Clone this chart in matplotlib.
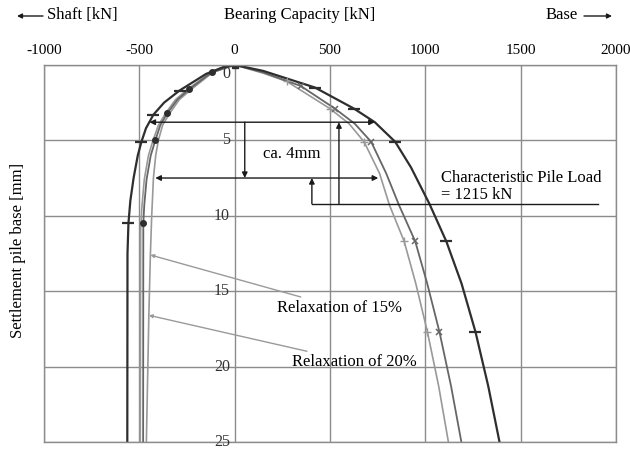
import matplotlib
matplotlib.use('Agg')
import matplotlib.pyplot as plt
import numpy as np

plt.rcParams['font.family'] = ['Liberation Serif', 'DejaVu Serif']
plt.rcParams['font.size'] = 11

# --- data (bearing capacity kN, settlement mm) ---
# base resistance curves (right)
base_meas_x = [0, 150, 421, 626, 735, 842, 925, 1021, 1110, 1190, 1263, 1330, 1389]
base_meas_y = [0, 0.4, 1.5, 2.9, 3.8, 5.1, 6.8, 9.2, 11.7, 14.5, 17.7, 21.3, 25]
base_r15_x = [0, 150, 347, 526, 630, 716, 795, 862, 947, 1010, 1074, 1135, 1189]
base_r15_y = [0, 0.5, 1.4, 2.9, 3.9, 5.1, 7.2, 9.3, 11.7, 14.5, 17.7, 21.3, 25]
base_r20_x = [0, 150, 274, 500, 600, 679, 760, 812, 889, 950, 1011, 1070, 1121]
base_r20_y = [0, 0.55, 1.1, 2.9, 3.9, 5.1, 7.2, 9.3, 11.7, 14.5, 17.7, 21.3, 25]

# shaft resistance curves (left)
shaft_meas_x = [0, -60, -150, -289, -370, -426, -465, -489, -508, -530, -547, -557, -562, -563]
shaft_meas_y = [0, 0.15, 0.6, 1.7, 2.5, 3.3, 4.2, 5.1, 6.0, 7.5, 9.0, 10.5, 12.5, 25]
shaft_a_x = [0, -121, -237, -300, -353, -390, -416, -440, -462, -474, -479, -480]
shaft_a_y = [0, 0.5, 1.6, 2.3, 3.2, 4.0, 5.0, 6.0, 7.6, 9.3, 10.5, 25]
shaft_b_x = [0, -125, -245, -310, -362, -400, -428, -452, -474, -487, -493, -495]
shaft_b_y = [0, 0.5, 1.6, 2.3, 3.2, 4.0, 5.0, 6.0, 7.6, 9.5, 11, 25]
shaft_c_x = [0, -115, -225, -290, -340, -378, -400, -414, -426, -435, -442, -450, -463]
shaft_c_y = [0, 0.5, 1.6, 2.3, 3.2, 4.0, 5.0, 6.0, 7.5, 10, 12.6, 16.6, 25]

# load step markers
mk_base_meas_x = [421, 626, 842, 1110, 1263]
mk_base_meas_y = [1.5, 2.9, 5.1, 11.7, 17.7]
mk_base_r15_x = [347, 526, 716, 947, 1074]
mk_base_r15_y = [1.4, 2.9, 5.1, 11.7, 17.7]
mk_base_r20_x = [274, 500, 679, 889, 1011]
mk_base_r20_y = [1.1, 2.9, 5.1, 11.7, 17.7]
mk_shaft_meas_x = [-289, -426, -489, -557]
mk_shaft_meas_y = [1.7, 3.3, 5.1, 10.5]
mk_shaft_a_x = [-121, -237, -353, -416, -479]
mk_shaft_a_y = [0.5, 1.6, 3.2, 5.0, 10.5]

x_ticks = [-1000, -500, 0, 500, 1000, 1500, 2000]
y_ticks = [0, 5, 10, 15, 20, 25]

dark = '#2e2e2e'
mid = '#666666'
light = '#999999'

fig = plt.figure(figsize=(6.3, 4.5), dpi=100, facecolor='white')
ax = fig.add_axes([0.0698, 0.0178, 0.908, 0.838])

ax.set_xlim(-1000, 2000)
ax.set_ylim(25, 0)
ax.xaxis.tick_top()
ax.set_xticks(x_ticks)
ax.set_xticklabels([str(t) for t in x_ticks])
ax.set_yticks(y_ticks)
ax.set_yticklabels([])
ax.tick_params(length=0, pad=6, labelsize=11)
ax.grid(True, color='#8c8c8c', lw=1.0)
for s in ax.spines.values():
    s.set_color('#8c8c8c')
    s.set_linewidth(1.0)

# in-plot settlement labels next to the zero line
for t in y_ticks:
    ax.text(-25, t + (0.6 if t == 0 else 0), str(t), ha='right', va='center',
            fontsize=11.5, color='#333333')

# curves
ax.plot(shaft_c_x, shaft_c_y, color=light, lw=1.2)
ax.plot(shaft_b_x, shaft_b_y, color=light, lw=1.2)
ax.plot(shaft_a_x, shaft_a_y, color=mid, lw=1.3)
ax.plot(shaft_meas_x, shaft_meas_y, color=dark, lw=1.6)
ax.plot(base_r20_x, base_r20_y, color=light, lw=1.2)
ax.plot(base_r15_x, base_r15_y, color=mid, lw=1.3)
ax.plot(base_meas_x, base_meas_y, color=dark, lw=1.6)

ax.plot(mk_base_meas_x, mk_base_meas_y, ls='none', marker='_', ms=8, mew=1.6, color=dark)
ax.plot(mk_base_r15_x, mk_base_r15_y, ls='none', marker='x', ms=5, mew=1.1, color=mid)
ax.plot(mk_base_r20_x, mk_base_r20_y, ls='none', marker='+', ms=6, mew=1.0, color=light)
ax.plot(mk_shaft_meas_x, mk_shaft_meas_y, ls='none', marker='_', ms=8, mew=1.6, color=dark)
ax.plot(mk_shaft_a_x, mk_shaft_a_y, ls='none', marker='o', ms=4, color=dark)
ax.plot([0], [0], ls='none', marker='s', ms=5, color=dark)

# dimension arrows
arr2 = dict(arrowstyle='<|-|>', color='#1a1a1a', lw=1.0, mutation_scale=8, shrinkA=0, shrinkB=0)
arr1 = dict(arrowstyle='-|>', color='#1a1a1a', lw=1.0, mutation_scale=8, shrinkA=0, shrinkB=0)
ax.annotate('', xy=(735, 3.8), xytext=(-447, 3.8), arrowprops=arr2)
ax.annotate('', xy=(753, 7.5), xytext=(-416, 7.5), arrowprops=arr2)
ax.annotate('', xy=(53, 7.5), xytext=(53, 3.8), arrowprops=arr1)
ax.annotate('', xy=(547, 3.8), xytext=(547, 9.2), arrowprops=arr1)
ax.annotate('', xy=(405, 7.5), xytext=(405, 9.2), arrowprops=arr1)
ax.plot([405, 1905], [9.2, 9.2], color='#1a1a1a', lw=1.0)
ax.text(300, 5.9, 'ca. 4mm', ha='center', va='center', fontsize=12)
ax.text(1084, 8.05, 'Characteristic Pile Load\n= 1215 kN', ha='left', va='center',
        fontsize=12, linespacing=1.05)

# relaxation callouts
grey_arr = dict(arrowstyle='-|>', color='#9a9a9a', lw=1.0, mutation_scale=5, shrinkA=0, shrinkB=0)
ax.annotate('Relaxation of 15%', xy=(-442, 12.6), xytext=(221, 16.1),
            ha='left', va='center', fontsize=12, arrowprops=grey_arr)
ax.annotate('Relaxation of 20%', xy=(-450, 16.6), xytext=(300, 19.7),
            ha='left', va='center', fontsize=12, arrowprops=grey_arr)

# header
fig.text(300 / 630, 1 - 15 / 450, 'Bearing Capacity [kN]', ha='center', va='center', fontsize=12)
fig.text(47 / 630, 1 - 15 / 450, 'Shaft [kN]', ha='left', va='center', fontsize=12)
fig.text(578 / 630, 1 - 15 / 450, 'Base', ha='right', va='center', fontsize=12)
hdr = dict(arrowstyle='-|>', color='#1a1a1a', lw=1.0, mutation_scale=7, shrinkA=0, shrinkB=0)
fig.add_artist(matplotlib.patches.FancyArrowPatch((43 / 630, 1 - 16 / 450), (17 / 630, 1 - 16 / 450),
                                                  transform=fig.transFigure, **hdr))
fig.add_artist(matplotlib.patches.FancyArrowPatch((584 / 630, 1 - 16 / 450), (612 / 630, 1 - 16 / 450),
                                                  transform=fig.transFigure, **hdr))
fig.text(18 / 630, 1 - 250 / 450, 'Settlement pile base [mm]', rotation=90,
         ha='center', va='center', fontsize=12)

fig.savefig('out.png', dpi=100, facecolor='white')
